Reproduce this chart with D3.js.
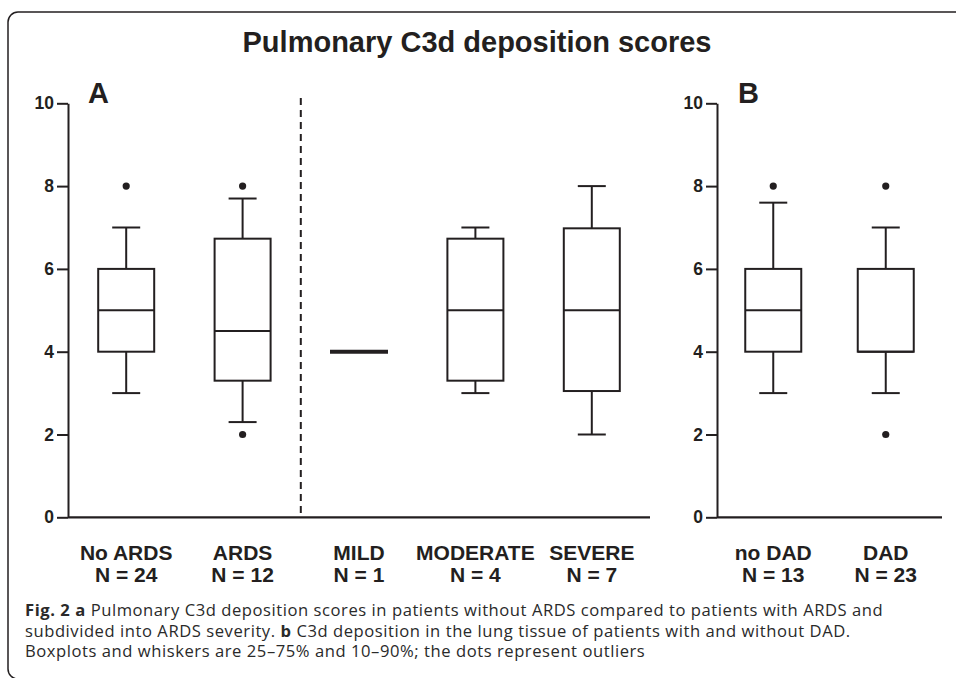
<!DOCTYPE html>
<html>
<head>
<meta charset="utf-8">
<script src="https://cdn.jsdelivr.net/npm/d3@7"></script>
<style>
  body { margin: 0; background: #fff; }
  svg { display: block; }
  .tick text { font-family: "Liberation Sans", Arial, sans-serif; font-weight: bold; font-size: 17.5px; fill: #231f20; }
</style>
</head>
<body>
<script>
// Panel A: ARDS groups
const groupsA = ["No ARDS", "ARDS", "MILD", "MODERATE", "SEVERE"];
const nA = [24, 12, 1, 4, 7];
const p10A = [3, 2.3, 4, 3, 2];
const q1A = [4, 3.3, 4, 3.3, 3.05];
const medA = [5, 4.5, 4, 5, 5];
const q3A = [6, 6.73, 4, 6.73, 6.98];
const p90A = [7, 7.7, 4, 7, 8];
const outliersA = [[8], [8, 2], [], [], []];

// Panel B: DAD groups
const groupsB = ["no DAD", "DAD"];
const nB = [13, 23];
const p10B = [3, 3];
const q1B = [4, 4];
const medB = [5, 4];
const q3B = [6, 6];
const p90B = [7.6, 7];
const outliersB = [[8], [8, 2]];

const yTicks = [0, 2, 4, 6, 8, 10];

const width = 956, height = 678;
const ink = "#231f20";
const boxW = 56, capW = 28;
const sans = "'Liberation Sans', Arial, sans-serif";

const svg = d3.select("body").append("svg")
  .attr("width", width)
  .attr("height", height);

// frame
svg.append("rect")
  .attr("x", 8).attr("y", 12)
  .attr("width", 1000).attr("height", 667)
  .attr("rx", 10)
  .attr("fill", "none")
  .attr("stroke", ink)
  .attr("stroke-width", 1.5);

svg.append("text")
  .attr("x", 477).attr("y", 52)
  .attr("text-anchor", "middle")
  .attr("font-family", sans)
  .attr("font-weight", "bold")
  .attr("font-size", "29px")
  .attr("fill", ink)
  .text("Pulmonary C3d deposition scores");

const y = d3.scaleLinear().domain([0, 10]).range([517.3, 103.3]);

function panel(x0, x1, groups, n, p10, q1, med, q3, p90, outliers, letter, letterX) {
  const x = d3.scalePoint().domain(groups).range([x0, x1]).padding(0.5);
  const g = svg.append("g");

  // y axis
  const ax = g.append("g")
    .attr("transform", `translate(${x0},0)`)
    .call(d3.axisLeft(y).tickValues(yTicks).tickSize(11).tickSizeOuter(0).tickPadding(3));
  ax.selectAll("path, line").attr("stroke", ink).attr("stroke-width", 2);

  // x axis line
  g.append("line")
    .attr("x1", x0).attr("x2", x1)
    .attr("y1", y(0)).attr("y2", y(0))
    .attr("stroke", ink).attr("stroke-width", 2.2);

  g.append("text")
    .attr("x", letterX).attr("y", 103)
    .attr("font-family", sans)
    .attr("font-weight", "bold")
    .attr("font-size", "29px")
    .attr("fill", ink)
    .text(letter);

  groups.forEach((name, i) => {
    const cx = x(name);
    const bg = g.append("g").attr("stroke", ink).attr("stroke-width", 2).attr("fill", "none");
    if (n[i] === 1) {
      bg.append("line")
        .attr("x1", cx - boxW / 2 - 1).attr("x2", cx + boxW / 2 + 1)
        .attr("y1", y(med[i])).attr("y2", y(med[i]))
        .attr("stroke-width", 4);
    } else {
      // whiskers
      bg.append("line").attr("x1", cx).attr("x2", cx).attr("y1", y(p90[i])).attr("y2", y(q3[i]));
      bg.append("line").attr("x1", cx).attr("x2", cx).attr("y1", y(q1[i])).attr("y2", y(p10[i]));
      bg.append("line").attr("x1", cx - capW / 2).attr("x2", cx + capW / 2).attr("y1", y(p90[i])).attr("y2", y(p90[i]));
      bg.append("line").attr("x1", cx - capW / 2).attr("x2", cx + capW / 2).attr("y1", y(p10[i])).attr("y2", y(p10[i]));
      // box
      bg.append("rect")
        .attr("x", cx - boxW / 2).attr("width", boxW)
        .attr("y", y(q3[i])).attr("height", y(q1[i]) - y(q3[i]));
      bg.append("line")
        .attr("x1", cx - boxW / 2).attr("x2", cx + boxW / 2)
        .attr("y1", y(med[i])).attr("y2", y(med[i]));
    }
    g.selectAll(null)
      .data(outliers[i])
      .enter()
      .append("circle")
      .attr("cx", cx)
      .attr("cy", d => y(d))
      .attr("r", 3.6)
      .attr("fill", ink);

    const lab = g.append("text")
      .attr("text-anchor", "middle")
      .attr("font-family", sans)
      .attr("font-weight", "bold")
      .attr("font-size", "21px")
      .attr("fill", ink);
    lab.append("tspan").attr("x", cx).attr("y", 560).text(name);
    lab.append("tspan").attr("x", cx).attr("y", 582).text(`N = ${n[i]}`);
  });
  return x;
}

const xA = panel(68, 650, groupsA, nA, p10A, q1A, medA, q3A, p90A, outliersA, "A", 88);
panel(717, 942, groupsB, nB, p10B, q1B, medB, q3B, p90B, outliersB, "B", 738);

// dashed separator between ARDS and severity subgroups
const sepX = (xA("ARDS") + xA("MILD")) / 2;
svg.append("line")
  .attr("x1", sepX).attr("x2", sepX)
  .attr("y1", 98).attr("y2", y(0))
  .attr("stroke", ink)
  .attr("stroke-width", 2)
  .attr("stroke-dasharray", "7,5");

// caption
const cap = svg.append("g")
  .attr("font-family", "'Open Sans', sans-serif")
  .attr("font-size", "16.6px")
  .attr("letter-spacing", "0.55px")
  .attr("fill", "#2a2a2a");

const l1 = cap.append("text").attr("x", 25).attr("y", 616);
l1.append("tspan").attr("font-weight", "bold").text("Fig. 2 a");
l1.append("tspan").text(" Pulmonary C3d deposition scores in patients without ARDS compared to patients with ARDS and");

const l2 = cap.append("text").attr("x", 25).attr("y", 636.5);
l2.append("tspan").text("subdivided into ARDS severity. ");
l2.append("tspan").attr("font-weight", "bold").text("b");
l2.append("tspan").text(" C3d deposition in the lung tissue of patients with and without DAD.");

cap.append("text").attr("x", 25).attr("y", 657)
  .text("Boxplots and whiskers are 25\u201375% and 10\u201390%; the dots represent outliers");
</script>
</body>
</html>
